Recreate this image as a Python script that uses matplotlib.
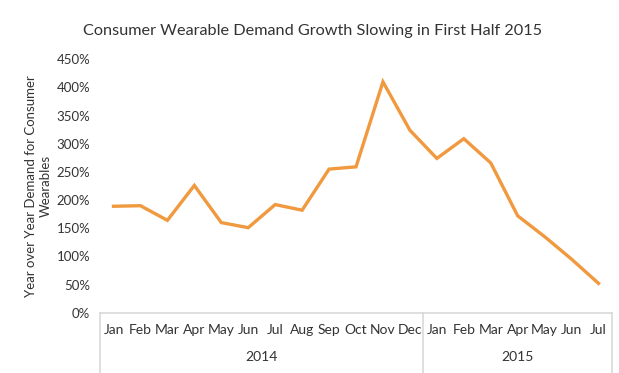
import matplotlib
matplotlib.use("Agg")
import matplotlib.pyplot as plt
from matplotlib.ticker import FuncFormatter, MultipleLocator

months = ["Jan", "Feb", "Mar", "Apr", "May", "Jun", "Jul", "Aug", "Sep", "Oct", "Nov", "Dec",
          "Jan", "Feb", "Mar", "Apr", "May", "Jun", "Jul"]
years = ["2014", "2015"]
year_counts = [12, 7]
growth = [189, 190, 164, 226, 160, 151, 192, 182, 255, 259, 410, 324,
          274, 309, 266, 172, 135, 95, 52]

plt.rcParams['font.family'] = ['Lato', 'DejaVu Sans']
txt = "#333333"

fig = plt.figure(figsize=(6.19, 3.73), dpi=100)
ax = fig.add_axes([0.1616, 0.1617, 0.8271, 0.6793])

x = list(range(len(months)))
ax.plot(x, growth, color="#F0993F", linewidth=2.4, solid_joinstyle="miter")

ax.set_xlim(-0.5, len(months) - 0.5)
ax.set_ylim(0, 450)
ax.yaxis.set_major_locator(MultipleLocator(50))
ax.yaxis.set_major_formatter(FuncFormatter(lambda v, p: f"{int(v)}%"))
ax.tick_params(axis='y', length=0, labelsize=9.5, labelcolor=txt, pad=7)
ax.tick_params(axis='x', length=0, labelsize=10, labelcolor=txt, pad=8)
ax.set_xticks(x)
ax.set_xticklabels(months)

for s in ["top", "right", "left"]:
    ax.spines[s].set_visible(False)
ax.spines["bottom"].set_color("#d9d9d9")
ax.spines["bottom"].set_linewidth(1.2)

# Category box lines
boundaries = [-0.5]
acc = -0.5
for c in year_counts:
    acc += c
    boundaries.append(acc)
for b in boundaries:
    ax.plot([b, b], [0, -0.24], transform=ax.get_xaxis_transform(), color="#d9d9d9",
            linewidth=1.2, clip_on=False)

start = -0.5
for yr, c in zip(years, year_counts):
    ax.text(start + c / 2, -0.175, yr, transform=ax.get_xaxis_transform(),
            ha="center", va="center", fontsize=10, color=txt)
    start += c

ax.set_ylabel("Year over Year Demand for Consumer\nWearables", fontsize=9.5, color=txt,
              labelpad=4, linespacing=1.3)
ax.yaxis.set_label_coords(-0.094, 0.5)

fig.text(0.505, 0.918, "Consumer Wearable Demand Growth Slowing in First Half 2015",
         ha="center", va="center", fontsize=11.7, color=txt)

fig.savefig("out.png", dpi=100)
